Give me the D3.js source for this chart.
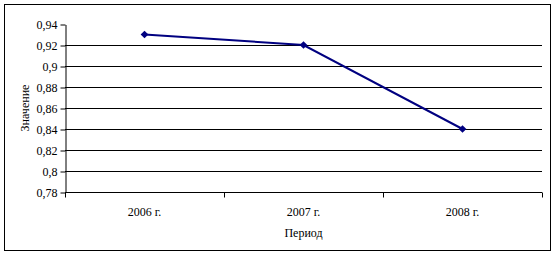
<!DOCTYPE html>
<html>
<head>
<meta charset="utf-8">
<script src="https://cdn.jsdelivr.net/npm/d3@7"></script>
<style>
  body { margin: 0; background: #fff; }
  svg text { font-family: "Liberation Serif", "Times New Roman", serif; font-size: 12px; fill: #000; }
</style>
</head>
<body>
<svg id="chart" width="556" height="256"></svg>
<script>
// data
var periods = ["2006 г.", "2007 г.", "2008 г."];
var values = [0.93, 0.92, 0.84];
var yTicks = [0.78, 0.80, 0.82, 0.84, 0.86, 0.88, 0.90, 0.92, 0.94];

var svg = d3.select("#chart");
var margin = { top: 24, right: 14, bottom: 64, left: 65 };
var width = 556 - margin.left - margin.right;
var height = 256 - margin.top - margin.bottom;

// outer frame
svg.append("rect")
  .attr("x", 4.5).attr("y", 4.5)
  .attr("width", 546).attr("height", 246)
  .attr("fill", "#fff").attr("stroke", "#000").attr("stroke-width", 1);

var g = svg.append("g").attr("transform", "translate(" + margin.left + "," + margin.top + ")");

var x = d3.scaleBand().domain(periods).range([0, width]);
var y = d3.scaleLinear().domain([0.78, 0.94]).range([height, 0]);

var fmt = function (d) { return String(+d.toFixed(2)).replace(".", ","); };

// grid lines (not at the top)
g.append("g").selectAll("line")
  .data(yTicks.filter(function (d) { return d > 0.78 && d < 0.94; }))
  .enter().append("line")
  .attr("x1", 0).attr("x2", width)
  .attr("y1", function (d) { return Math.round(y(d)) + 0.5; })
  .attr("y2", function (d) { return Math.round(y(d)) + 0.5; })
  .attr("stroke", "#000");

// y axis
var yAxis = g.append("g")
  .attr("transform", "translate(0.5,0.5)")
  .call(d3.axisLeft(y).tickValues(yTicks).tickFormat(fmt).tickSize(5).tickSizeOuter(0));
yAxis.attr("font-family", null).attr("font-size", null);
yAxis.select(".domain").attr("stroke", "#000");
yAxis.selectAll("text").attr("x", -8);

// x axis with ticks between categories
var xAxis = g.append("g").attr("transform", "translate(0," + (Math.round(height) + 0.5) + ")");
xAxis.append("line").attr("x1", 0).attr("x2", width).attr("stroke", "#000");
var bounds = [0].concat(periods.map(function (p) { return x(p) + x.bandwidth(); }));
xAxis.selectAll(".tick").data(bounds).enter().append("line")
  .attr("x1", function (d) { return Math.round(d) + 0.5; })
  .attr("x2", function (d) { return Math.round(d) + 0.5; })
  .attr("y1", 0).attr("y2", 5).attr("stroke", "#000");
xAxis.selectAll(".lbl").data(periods).enter().append("text")
  .attr("x", function (d) { return x(d) + x.bandwidth() / 2; })
  .attr("y", 23)
  .attr("text-anchor", "middle")
  .text(function (d) { return d; });

// axis titles
svg.append("text")
  .attr("x", margin.left + width / 2).attr("y", 237)
  .attr("text-anchor", "middle")
  .text("Период");
svg.append("text")
  .attr("transform", "translate(29," + (margin.top + height / 2) + ") rotate(-90)")
  .attr("text-anchor", "middle")
  .text("Значение");

// series line
var cx = function (i) { return x(periods[i]) + x.bandwidth() / 2; };
var line = d3.line()
  .x(function (d, i) { return cx(i); })
  .y(function (d) { return y(d); });

g.append("path")
  .datum(values)
  .attr("d", line)
  .attr("fill", "none")
  .attr("stroke", "#000080")
  .attr("stroke-width", 2);

g.selectAll(".pt").data(values).enter().append("path")
  .attr("d", d3.symbol().type(d3.symbolSquare).size(30))
  .attr("transform", function (d, i) {
    return "translate(" + cx(i) + "," + y(d) + ") rotate(45)";
  })
  .attr("fill", "#000080");
</script>
</body>
</html>
